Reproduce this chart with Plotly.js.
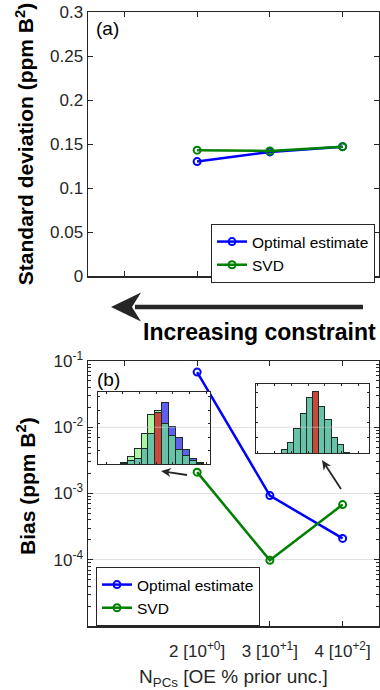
<!DOCTYPE html>
<html><head><meta charset="utf-8">
<script src="https://cdn.plot.ly/plotly-3.0.1.min.js"></script>
<style>html,body{margin:0;padding:0;background:#fff}#chart{width:380px;height:690px}</style>
</head><body><div id="chart"></div>
<script>
// ---- data ----
const nPCs = [2, 3, 4];
const xTickVals = [2, 3, 4];
const xTickText = ['2 [10<sup>+0</sup>]', '3 [10<sup>+1</sup>]', '4 [10<sup>+2</sup>]'];
const xUnlabelledTicks = [1];
const stdOE = [0.130, 0.141, 0.147];
const stdSVD = [0.143, 0.142, 0.147];
const biasOE = [0.068, 9.3e-4, 2.1e-4];
const biasSVD = [2.1e-3, 9.8e-5, 6.8e-4];
const stdTickVals = [0, 0.05, 0.1, 0.15, 0.2, 0.25, 0.3];
const stdTickText = ['0', '0.05', '0.1', '0.15', '0.2', '0.25', '0.3'];
const biasTickVals = [1e-4, 1e-3, 1e-2, 1e-1];
const biasTickText = ['10<sup>-4</sup>', '10<sup>-3</sup>', '10<sup>-2</sup>', '10<sup>-1</sup>'];
// inset histograms (relative counts, bin index relative to highlighted bin)
const inset1Bins = [-5, -4, -3, -2, -1, 0, 1, 2, 3, 4, 5, 6];
const inset1SVD  = [3, 23, 45, 90, 146, 160, 121, 86, 43, 25, 10, 2];
const inset1OE   = [2, 10, 16, 46, 91, 153, 182, 110, 80, 43, 16, 3];
const inset2Bins = [-5, -4, -3, -2, -1, 0, 1, 2, 3, 4, 5];
const inset2Counts = [10, 32, 73, 118, 163, 181, 138, 100, 46, 26, 2];

// ---- geometry helpers (pixel -> paper) ----
const W = 380, H = 690, mL = 88, mR = 1, mT = 12, mB = 64;
const PW = W - mL - mR, PH = H - mT - mB;
const px = x => (x - mL) / PW;
const py = y => 1 - (y - mT) / PH;

const BLUE = '#0000ff', GREEN = '#008000', DARK = '#262626';
const TEAL = '#68c2a8', LGREEN = '#adf5a3', LBLUE = '#5f5ff2', RED = '#c9483c', EDGE = '#1c2b26';
const FONT = 'Liberation Sans, Arial, Helvetica, sans-serif';

function lineTrace(x, y, name, color, xa, ya, leg) {
  return {x: x, y: y, name: name, type: 'scatter', mode: 'lines+markers', xaxis: xa, yaxis: ya, legend: leg,
    line: {color: color, width: 2.5},
    marker: {symbol: 'circle-open', size: 7, color: color, line: {width: 2, color: color}}};
}

const base1 = inset1Bins.map((b, i) => Math.min(inset1SVD[i], inset1OE[i]));
const exG1 = inset1Bins.map((b, i) => Math.max(inset1SVD[i] - inset1OE[i], 0));
const exB1 = inset1Bins.map((b, i) => Math.max(inset1OE[i] - inset1SVD[i], 0));
const barCommon = {type: 'bar', showlegend: false, hoverinfo: 'skip'};

const traces = [
  lineTrace(nPCs, stdOE, 'Optimal estimate', BLUE, 'x', 'y', 'legend'),
  lineTrace(nPCs, stdSVD, 'SVD', GREEN, 'x', 'y', 'legend'),
  lineTrace(nPCs, biasOE, 'Optimal estimate', BLUE, 'x2', 'y2', 'legend2'),
  lineTrace(nPCs, biasSVD, 'SVD', GREEN, 'x2', 'y2', 'legend2'),
  Object.assign({}, barCommon, {x: inset1Bins, y: base1, xaxis: 'x3', yaxis: 'y3',
    marker: {color: inset1Bins.map(b => b === 0 ? RED : TEAL), line: {color: EDGE, width: 1}}}),
  Object.assign({}, barCommon, {x: inset1Bins, y: exG1, xaxis: 'x3', yaxis: 'y3',
    marker: {color: LGREEN, line: {color: EDGE, width: 1}}}),
  Object.assign({}, barCommon, {x: inset1Bins, y: exB1, xaxis: 'x3', yaxis: 'y3',
    marker: {color: LBLUE, line: {color: EDGE, width: 1}}}),
  Object.assign({}, barCommon, {x: inset2Bins, y: inset2Counts, xaxis: 'x4', yaxis: 'y4',
    marker: {color: inset2Bins.map(b => b === 0 ? RED : TEAL), line: {color: EDGE, width: 1}}})
];

const axBase = {showline: true, linecolor: DARK, linewidth: 1.5, mirror: 'ticks', ticks: 'inside',
  tickcolor: DARK, tickwidth: 1, showgrid: false, zeroline: false, tickfont: {size: 17, color: DARK}};
const insetAx = {showline: true, linecolor: DARK, linewidth: 1, mirror: 'ticks', ticks: 'inside', ticklen: 2,
  tickcolor: DARK, showgrid: false, zeroline: false, showticklabels: false};

const yTop = [py(276), 1], yBot = [0, py(361)];
const biasRange = [-5, -1];
const minorVals = [];
for (let d = -5; d < -1; d++) for (let k = 2; k <= 9; k++) minorVals.push(k * Math.pow(10, d));
const gridY = yBot[0] + (Math.log10(1e-2) - biasRange[0]) / (biasRange[1] - biasRange[0]) * (yBot[1] - yBot[0]);

const legendBase = {xanchor: 'left', yanchor: 'top', bgcolor: '#fff', bordercolor: DARK, borderwidth: 1,
  font: {size: 15.5, color: '#000'}, tracegroupgap: 0, itemwidth: 30, traceorder: 'normal'};

// small arrow as a filled path (pixel coords -> paper)
function arrowShapes(tx, ty, hx, hy, len, hw, notch, width) {
  const dx = hx - tx, dy = hy - ty, L = Math.hypot(dx, dy), ux = dx / L, uy = dy / L, nx = -uy, ny = ux;
  const bx = hx - ux * len, by = hy - uy * len;
  const ix = hx - ux * len * notch, iy = hy - uy * len * notch;
  return [
    {type: 'line', xref: 'paper', yref: 'paper', x0: px(tx), y0: py(ty), x1: px(ix), y1: py(iy), line: {color: DARK, width: width}},
    {type: 'path', xref: 'paper', yref: 'paper', fillcolor: DARK, line: {width: 0},
      path: `M${px(hx)},${py(hy)} L${px(bx + nx * hw)},${py(by + ny * hw)} L${px(ix)},${py(iy)} L${px(bx - nx * hw)},${py(by - ny * hw)} Z`}
  ];
}

const layout = {
  width: W, height: H, margin: {l: mL, r: mR, t: mT, b: mB}, autosize: false,
  paper_bgcolor: '#fff', plot_bgcolor: '#fff', font: {family: FONT, color: DARK},
  barmode: 'stack', bargap: 0,
  xaxis: Object.assign({}, axBase, {domain: [0, 1], anchor: 'y', range: [0.5, 4.5], tickvals: xTickVals, showticklabels: false, ticklen: 5,
    minor: {tickvals: xUnlabelledTicks, ticks: 'inside', ticklen: 5, tickcolor: DARK, showgrid: false}}),
  yaxis: Object.assign({}, axBase, {domain: yTop, anchor: 'x', range: [0, 0.3], tickvals: stdTickVals, ticktext: stdTickText, ticklen: 5,
    title: {text: '<b>Standard deviation (ppm B<sup>2</sup>)</b>', font: {size: 21, color: '#000'}, standoff: 10}}),
  xaxis2: Object.assign({}, axBase, {domain: [0, 1], anchor: 'y2', range: [0.5, 4.5], tickvals: xTickVals, ticktext: xTickText, ticklen: 5,
    ticklabelstandoff: 9,
    minor: {tickvals: xUnlabelledTicks, ticks: 'inside', ticklen: 5, tickcolor: DARK, showgrid: false},
    title: {text: 'N<sub>PCs</sub> [OE % prior unc.]', font: {size: 19, color: DARK}, standoff: 12}}),
  yaxis2: Object.assign({}, axBase, {domain: yBot, anchor: 'x2', type: 'log', range: biasRange, tickvals: biasTickVals, ticktext: biasTickText, ticklen: 5,
    showgrid: true, gridcolor: '#e2e2e2', gridwidth: 1,
    minor: {tickvals: minorVals, ticks: 'inside', ticklen: 3, tickcolor: DARK, showgrid: false}}),
  xaxis3: Object.assign({}, insetAx, {domain: [px(98), px(210)], anchor: 'y3', range: [-8.7, 7.45], dtick: 2.4, tick0: -7.5}),
  yaxis3: Object.assign({}, insetAx, {domain: [py(464), py(392)], anchor: 'x3', range: [0, 214], dtick: 40}),
  xaxis4: Object.assign({}, insetAx, {domain: [px(256), px(369)], anchor: 'y4', range: [-9.6, 8.6], dtick: 2.7, tick0: -6.6}),
  yaxis4: Object.assign({}, insetAx, {domain: [py(453), py(384)], anchor: 'x4', range: [0, 204], dtick: 45}),
  legend: Object.assign({}, legendBase, {x: px(211), y: py(224)}),
  legend2: Object.assign({}, legendBase, {x: px(96), y: py(567)}),
  annotations: [
    {text: '<b>Bias (ppm B<sup>2</sup>)</b>', xref: 'paper', yref: 'paper', x: px(26), y: py(486), xanchor: 'center', yanchor: 'middle',
      textangle: -90, showarrow: false, font: {size: 21, color: '#000'}},
    {text: '(a)', xref: 'paper', yref: 'paper', x: px(94), y: py(28), xanchor: 'left', yanchor: 'middle', showarrow: false, font: {size: 19, color: '#000'}},
    {text: '(b)', xref: 'paper', yref: 'paper', x: px(95), y: py(379), xanchor: 'left', yanchor: 'middle', showarrow: false, font: {size: 19, color: '#000'}},
    {text: '<b>Increasing constraint</b>', xref: 'paper', yref: 'paper', x: px(259.5), y: py(332), xanchor: 'center', yanchor: 'middle', showarrow: false, font: {size: 23, color: '#000'}}
  ],
  shapes: [
    {type: 'line', xref: 'paper', yref: 'paper', x0: px(135), x1: px(363), y0: py(307), y1: py(307), line: {color: DARK, width: 4.5}},
    {type: 'path', xref: 'paper', yref: 'paper', fillcolor: DARK, line: {width: 0},
      path: `M${px(111)},${py(307)} L${px(141)},${py(292.5)} L${px(132)},${py(307)} L${px(141)},${py(321.5)} Z`},
    ...arrowShapes(187, 475, 161, 471, 10, 4.5, 0.7, 1.8),
    ...arrowShapes(341, 489, 322, 460, 10, 4.5, 0.7, 1.8),
    {type: 'line', xref: 'paper', yref: 'paper', layer: 'above', x0: px(98), x1: px(210), y0: gridY, y1: gridY, line: {color: 'rgba(200,200,200,0.6)', width: 1}},
    {type: 'line', xref: 'paper', yref: 'paper', layer: 'above', x0: px(256), x1: px(369), y0: gridY, y1: gridY, line: {color: 'rgba(200,200,200,0.6)', width: 1}}
  ]
};

Plotly.newPlot('chart', traces, layout, {staticPlot: true, displayModeBar: false});
</script>
</body></html>
